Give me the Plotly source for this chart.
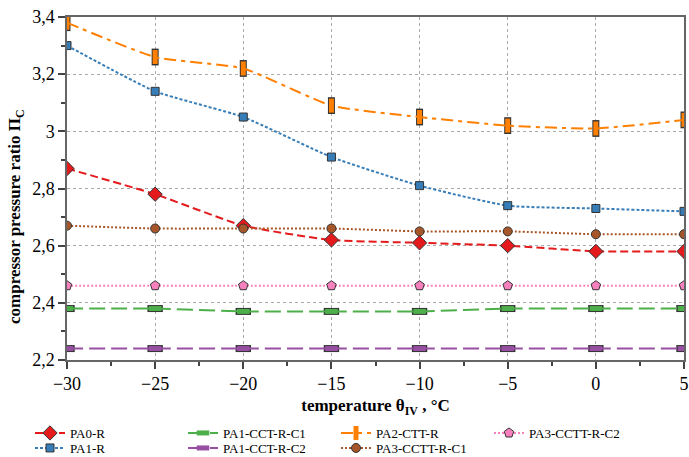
import plotly.graph_objects as go

temps = [-30, -25, -20, -15, -10, -5, 0, 5]
pa0_r = [2.87, 2.78, 2.67, 2.62, 2.61, 2.60, 2.58, 2.58]
pa1_r = [3.30, 3.14, 3.05, 2.91, 2.81, 2.74, 2.73, 2.72]
pa1_cct_r_c1 = [2.38, 2.38, 2.37, 2.37, 2.37, 2.38, 2.38, 2.38]
pa1_cct_r_c2 = [2.24, 2.24, 2.24, 2.24, 2.24, 2.24, 2.24, 2.24]
pa2_ctt_r = [3.38, 3.26, 3.22, 3.09, 3.05, 3.02, 3.01, 3.04]
pa3_cctt_r_c1 = [2.67, 2.66, 2.66, 2.66, 2.65, 2.65, 2.64, 2.64]
pa3_cctt_r_c2 = [2.46, 2.46, 2.46, 2.46, 2.46, 2.46, 2.46, 2.46]

x_tickvals = [-30, -25, -20, -15, -10, -5, 0, 5]
x_ticktext = ["\u221230", "\u221225", "\u221220", "\u221215", "\u221210", "\u22125", "0", "5"]
y_tickvals = [2.2, 2.4, 2.6, 2.8, 3.0, 3.2, 3.4]
y_ticktext = ["2,2", "2,4", "2,6", "2,8", "3", "3,2", "3,4"]

FONT = "Liberation Serif"
EDGE = "#333333"
W, H = 689, 457

fig = go.Figure()

def add(name, y, color, dash, symbol, size, legend, rank, mline=None):
    marker = dict(symbol=symbol, size=size, color=color, line=dict(color=EDGE, width=1))
    if mline is not None:
        marker = dict(symbol=symbol, size=size, color=color, line=dict(color=color, width=mline))
    fig.add_trace(go.Scatter(
        x=temps, y=y, name=name, mode="lines+markers",
        line=dict(color=color, dash=dash, width=2, shape="spline", smoothing=0.5),
        marker=marker, legend=legend, legendrank=rank,
    ))

def overlay(y, symbol, size, w):
    # dark outline under a line-type marker to mimic a bordered rectangle
    fig.add_trace(go.Scatter(x=temps, y=y, mode="markers", showlegend=False, hoverinfo="skip",
                             marker=dict(symbol=symbol, size=size + 2, line=dict(color=EDGE, width=w + 2))))

overlay(pa1_cct_r_c1, "line-ew", 9, 5)
overlay(pa1_cct_r_c2, "line-ew", 9, 5)
overlay(pa2_ctt_r, "line-ns", 10, 5)

add("PA0-R", pa0_r, "#E41A1C", "8px,4px", "diamond", 11, "legend", 1)
add("PA1-CCT-R-C1", pa1_cct_r_c1, "#4DAF4A", "16px,6px", "line-ew", 9, "legend", 2, mline=5)
add("PA2-CTT-R", pa2_ctt_r, "#FF7F00", "12px,5px,4px,5px", "line-ns", 10, "legend", 3, mline=5)
add("PA3-CCTT-R-C2", pa3_cctt_r_c2, "#F781BF", "2px,2px", "pentagon", 10, "legend", 4)
add("PA1-R", pa1_r, "#377EB8", "3px,2px", "square", 8, "legend2", 5)
add("PA1-CCT-R-C2", pa1_cct_r_c2, "#984EA3", "16px,6px", "line-ew", 9, "legend2", 6, mline=5)
add("PA3-CCTT-R-C1", pa3_cctt_r_c1, "#A65628", "2px,2px", "circle", 9, "legend2", 7)

axis_common = dict(
    showline=True, linecolor="#666666", linewidth=1.5, mirror=True,
    ticks="outside", ticklen=7, tickcolor="#444444", tickwidth=1.5,
    showgrid=True, gridcolor="#aaaaaa", griddash="dot", gridwidth=1,
    zeroline=False, automargin=False,
    tickfont=dict(family=FONT, size=18, color="black"),
)

fig.update_xaxes(
    range=[-30, 5], tickvals=x_tickvals, ticktext=x_ticktext,
    minor=dict(ticks="outside", dtick=2.5, tick0=-30, ticklen=4, tickcolor="#444444", showgrid=False),
    title=dict(text="<b>temperature θ<sub>IV</sub> , °C</b>", font=dict(family=FONT, size=17, color="black"), standoff=16),
    **axis_common,
)
fig.update_yaxes(
    range=[2.2, 3.4], tickvals=y_tickvals, ticktext=y_ticktext,
    minor=dict(ticks="outside", dtick=0.1, tick0=2.2, ticklen=4, tickcolor="#444444", showgrid=False),
    **axis_common,
)

L, R, T, B = 67, 5, 17, 97
fig.add_annotation(
    text="<b>compressor pressure ratio Π<sub>C</sub></b>", textangle=-90,
    xref="paper", yref="paper", x=(16 - L) / (W - L - R), y=(H - B - 217) / (H - B - T),
    xanchor="center", yanchor="middle", showarrow=False,
    font=dict(family=FONT, size=17, color="black"),
)

legend_common = dict(
    orientation="h", xanchor="left", yanchor="top", x=30 / W, xref="container", yref="container",
    entrywidth=108, entrywidthmode="pixels", font=dict(family=FONT, size=13, color="black"),
    itemwidth=30, tracegroupgap=0, bgcolor="rgba(0,0,0,0)", borderwidth=0,
)

fig.update_layout(
    width=W, height=H,
    margin=dict(l=L, r=R, t=T, b=B),
    plot_bgcolor="white", paper_bgcolor="white",
    font=dict(family=FONT, color="black"),
    legend=dict(y=1 - 418 / H, **legend_common),
    legend2=dict(y=1 - 433 / H, **legend_common),
)

fig.write_html("out.html", config={"displayModeBar": False},
               post_script="document.body.style.margin='0';document.body.style.overflow='hidden';")
